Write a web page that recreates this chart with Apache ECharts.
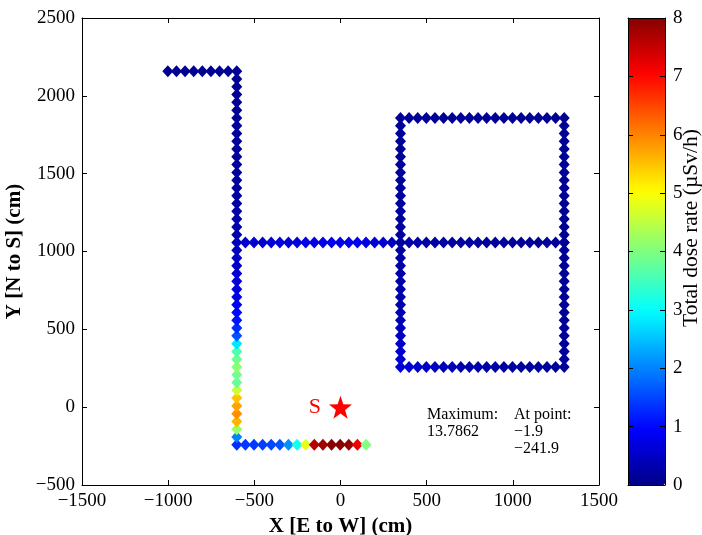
<!DOCTYPE html>
<html>
<head>
<meta charset="utf-8">
<script src="https://cdn.jsdelivr.net/npm/echarts@6/dist/echarts.min.js"></script>
<style>
  html, body { margin: 0; padding: 0; background: #fff; }
  #chart { width: 702px; height: 535px; }
</style>
</head>
<body>
<div id="chart"></div>
<script>
// measurement path (cm), dose rate in uSv/h
const westColX = -601.9
const westColY = [-241.9, -191.9, -141.9, -91.9, -41.9, 8.1, 58.1, 108.1, 158.1, 208.1, 258.1, 308.1, 358.1, 408.1, 458.1,
  508.1, 558.1, 608.1, 658.1, 708.1, 758.1, 808.1, 858.1, 908.1, 958.1, 1008.1, 1058.1, 1108.1, 1158.1, 1208.1,
  1258.1, 1308.1, 1358.1, 1408.1, 1458.1, 1508.1, 1558.1, 1608.1, 1658.1, 1708.1, 1758.1, 1808.1, 1858.1, 1908.1,
  1958.1, 2008.1, 2058.1, 2108.1, 2158.1]
const westColDose = [1.3, 2.0, 4.2, 5.6, 5.9, 5.75, 5.5, 4.6, 3.8, 3.9, 4.1, 3.9, 3.6, 2.8, 1.6,
  1.3, 1.1, 1.0, 0.85, 0.75, 0.68, 0.62, 0.57, 0.52, 0.48, 0.45, 0.42, 0.32, 0.28, 0.26,
  0.24, 0.22, 0.21, 0.2, 0.19, 0.18, 0.17, 0.16, 0.16, 0.15, 0.15, 0.14, 0.14, 0.13,
  0.13, 0.12, 0.12, 0.11, 0.11]

const topArmY = 2158.1
const topArmX = [-1001.9, -951.9, -901.9, -851.9, -801.9, -751.9, -701.9, -651.9]
const topArmDose = [0.08, 0.08, 0.09, 0.09, 0.09, 0.1, 0.1, 0.1]

const bottomRowY = -241.9
const bottomRowX = [-551.9, -501.9, -451.9, -401.9, -351.9, -301.9, -251.9, -201.9, -151.9, -101.9, -51.9, -1.9, 48.1, 98.1, 148.1]
const bottomRowDose = [1.4, 1.4, 1.45, 1.5, 1.6, 2.1, 3.1, 4.8, 7.6, 7.8, 10.5, 13.7862, 7.9, 7.2, 4.0]

const midRowY = 1058.1
const midRowX = [-551.9, -501.9, -451.9, -401.9, -351.9, -301.9, -251.9, -201.9, -151.9, -101.9, -51.9, -1.9, 48.1,
  98.1, 148.1, 198.1, 248.1, 298.1, 348.1, 398.1, 448.1, 498.1, 548.1, 598.1, 648.1, 698.1, 748.1, 798.1, 848.1,
  898.1, 948.1, 998.1, 1048.1, 1098.1, 1148.1, 1198.1, 1248.1, 1298.1]
const midRowDose = [0.55, 0.58, 0.6, 0.62, 0.65, 0.68, 0.7, 0.72, 0.75, 0.78, 0.8, 0.8, 0.8,
  0.78, 0.72, 0.65, 0.55, 0.45, 0.35, 0.3, 0.28, 0.26, 0.24, 0.22, 0.21, 0.2, 0.19, 0.18, 0.17,
  0.16, 0.15, 0.15, 0.14, 0.14, 0.13, 0.13, 0.12, 0.12]

const squareTopY = 1858.1
const squareBottomY = 258.1
const squareX = [348.1, 398.1, 448.1, 498.1, 548.1, 598.1, 648.1, 698.1, 748.1, 798.1, 848.1, 898.1, 948.1, 998.1,
  1048.1, 1098.1, 1148.1, 1198.1, 1248.1, 1298.1]
const squareTopDose = [0.14, 0.14, 0.13, 0.13, 0.13, 0.12, 0.12, 0.12, 0.11, 0.11, 0.11, 0.1, 0.1, 0.1, 0.1, 0.09, 0.09, 0.09, 0.09, 0.09]
const squareBottomDose = [0.65, 0.6, 0.55, 0.5, 0.45, 0.4, 0.36, 0.32, 0.3, 0.28, 0.26, 0.24, 0.22, 0.2, 0.19, 0.18, 0.17, 0.16, 0.15, 0.15]

const squareLeftX = 348.1
const squareRightX = 1298.1
const squareSideY = [308.1, 358.1, 408.1, 458.1, 508.1, 558.1, 608.1, 658.1, 708.1, 758.1, 808.1, 858.1, 908.1, 958.1,
  1008.1, 1058.1, 1108.1, 1158.1, 1208.1, 1258.1, 1308.1, 1358.1, 1408.1, 1458.1, 1508.1, 1558.1, 1608.1, 1658.1,
  1708.1, 1758.1, 1808.1]
const squareLeftDose = [0.6, 0.55, 0.5, 0.46, 0.42, 0.38, 0.35, 0.32, 0.3, 0.28, 0.26, 0.25, 0.24, 0.23, 0.22, 0.21,
  0.2, 0.19, 0.18, 0.18, 0.17, 0.17, 0.16, 0.16, 0.15, 0.15, 0.15, 0.14, 0.14, 0.14, 0.14]
const squareRightDose = [0.15, 0.15, 0.14, 0.14, 0.14, 0.13, 0.13, 0.13, 0.13, 0.12, 0.12, 0.12, 0.12, 0.12, 0.12, 0.12,
  0.11, 0.11, 0.11, 0.11, 0.11, 0.11, 0.1, 0.1, 0.1, 0.1, 0.1, 0.1, 0.1, 0.1, 0.1]

// source position
const sourceX = [0]
const sourceY = [0]
const sourceName = ['S']

// build scatter data
const points = []
function addRow(xs, y, ds) { xs.forEach((x, i) => points.push([x, y, ds[i]])) }
function addCol(x, ys, ds) { ys.forEach((y, i) => points.push([x, y, ds[i]])) }
addRow(topArmX, topArmY, topArmDose)
addCol(westColX, westColY, westColDose)
addRow(midRowX, midRowY, midRowDose)
addRow(squareX, squareTopY, squareTopDose)
addRow(squareX, squareBottomY, squareBottomDose)
addCol(squareLeftX, squareSideY, squareLeftDose)
addCol(squareRightX, squareSideY, squareRightDose)
addRow(bottomRowX, bottomRowY, bottomRowDose)

// matlab jet colormap, 64 steps
function jet(n) {
  const out = []
  for (let i = 0; i < n; i++) {
    const t = (i + 0.5) / n * 4
    const r = Math.min(Math.max(Math.min(t - 1.5, -t + 4.5), 0), 1)
    const g = Math.min(Math.max(Math.min(t - 0.5, -t + 3.5), 0), 1)
    const b = Math.min(Math.max(Math.min(t + 0.5, -t + 2.5), 0), 1)
    out.push('rgb(' + Math.round(r * 255) + ',' + Math.round(g * 255) + ',' + Math.round(b * 255) + ')')
  }
  return out
}

const serif = 'Liberation Serif'
const minus = v => String(v).replace('-', '\u2212')
const frameAxis = {
  axisLine: { show: true, onZero: false, lineStyle: { color: '#000', width: 1 } },
  axisTick: { show: true, inside: true, length: 5, lineStyle: { color: '#000' } },
  splitLine: { show: false },
  z: 10,
}

const chart = echarts.init(document.getElementById('chart'))
chart.setOption({
  backgroundColor: '#fff',
  animation: false,
  grid: [
    { left: 82, right: 103, top: 18, bottom: 50, outerBoundsMode: 'none', containLabel: false },
    { left: 628, top: 18, width: 37, height: 467, outerBoundsMode: 'none', containLabel: false },
  ],
  xAxis: [
    {
      ...frameAxis, gridIndex: 0, type: 'value', position: 'bottom',
      min: -1500, max: 1500, interval: 500,
      axisLabel: { color: '#000', fontFamily: serif, fontSize: 19, margin: 7, formatter: minus },
      name: 'X [E to W] (cm)', nameLocation: 'middle', nameGap: 26,
      nameTextStyle: { color: '#000', fontFamily: serif, fontSize: 21, fontWeight: 'bold' },
    },
    {
      ...frameAxis, gridIndex: 0, type: 'value', position: 'top',
      min: -1500, max: 1500, interval: 500, axisLabel: { show: false },
    },
    { gridIndex: 1, type: 'value', min: 0, max: 1, position: 'bottom', z: 10,
      axisLine: { onZero: false, lineStyle: { color: '#000' } }, axisTick: { show: false }, axisLabel: { show: false }, splitLine: { show: false } },
    { gridIndex: 1, type: 'value', min: 0, max: 1, position: 'top', z: 10,
      axisLine: { onZero: false, lineStyle: { color: '#000' } }, axisTick: { show: false }, axisLabel: { show: false }, splitLine: { show: false } },
  ],
  yAxis: [
    {
      ...frameAxis, gridIndex: 0, type: 'value', position: 'left',
      min: -500, max: 2500, interval: 500,
      axisLabel: { color: '#000', fontFamily: serif, fontSize: 19, margin: 7, formatter: minus },
      name: 'Y [N to S] (cm)', nameLocation: 'middle', nameGap: 53, nameRotate: 90,
      nameTextStyle: { color: '#000', fontFamily: serif, fontSize: 21, fontWeight: 'bold' },
    },
    {
      ...frameAxis, gridIndex: 0, type: 'value', position: 'right',
      min: -500, max: 2500, interval: 500, axisLabel: { show: false },
    },
    {
      ...frameAxis, gridIndex: 1, type: 'value', position: 'right',
      min: 0, max: 8, interval: 1,
      axisLabel: { color: '#000', fontFamily: serif, fontSize: 19, margin: 8 },
    },
    {
      ...frameAxis, gridIndex: 1, type: 'value', position: 'left',
      min: 0, max: 8, interval: 1, axisLabel: { show: false },
    },
  ],
  visualMap: {
    type: 'continuous',
    seriesIndex: 0,
    dimension: 2,
    min: 0, max: 8,
    orient: 'vertical',
    left: 628, top: 18,
    itemWidth: 37, itemHeight: 467,
    padding: 0,
    calculable: false,
    text: null,
    inRange: { color: jet(64) },
    outOfRange: { color: '#800000' },
  },
  series: [
    {
      type: 'scatter',
      xAxisIndex: 0, yAxisIndex: 0,
      symbol: 'diamond',
      symbolSize: [11, 12],
      itemStyle: { opacity: 1 },
      data: points,
      z: 2,
    },
    {
      type: 'scatter',
      xAxisIndex: 0, yAxisIndex: 0,
      symbol: 'path://M0,-10L2.35,-3.24L9.51,-3.09L3.8,1.24L5.88,8.09L0,4L-5.88,8.09L-3.8,1.24L-9.51,-3.09L-2.35,-3.24Z',
      symbolSize: 23,
      itemStyle: { color: '#ff0000', opacity: 1 },
      data: sourceX.map((x, i) => ({ value: [x, sourceY[i]], name: sourceName[i] })),
      label: {
        show: true, position: 'left', distance: 8, formatter: '{b}',
        color: '#ff0000', fontFamily: serif, fontSize: 22,
      },
      z: 3,
    },
  ],
  graphic: [
    { type: 'text', x: 691, y: 228, rotation: Math.PI / 2, z: 20,
      style: { text: 'Total dose rate (\u00b5Sv/h)', fill: '#000', font: '21.5px "Liberation Serif"',
        align: 'center', verticalAlign: 'middle' } },
    { type: 'text', left: 427, top: 406, z: 20,
      style: { text: 'Maximum:\n13.7862', fill: '#000', font: '16px "Liberation Serif"', lineHeight: 17 } },
    { type: 'text', left: 514, top: 406, z: 20,
      style: { text: 'At point:\n\u22121.9\n\u2212241.9', fill: '#000', font: '16px "Liberation Serif"', lineHeight: 17 } },
  ],
})
</script>
</body>
</html>
